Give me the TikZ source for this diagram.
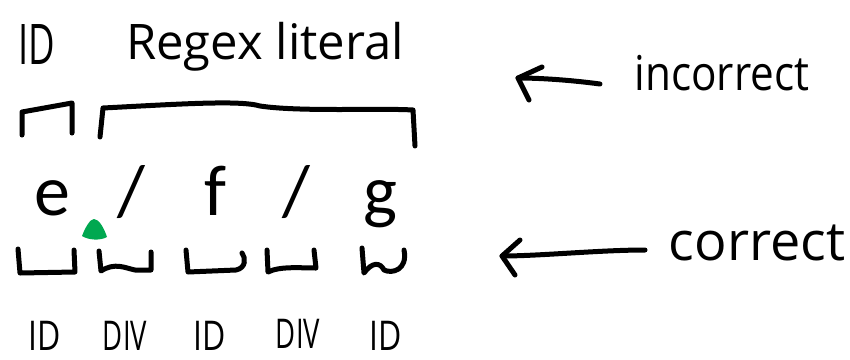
\documentclass[tikz,border=0pt]{standalone}
\usepackage{fontspec}
\newfontfamily\bigfont{Carlito}
\newfontfamily\handfont{Open Sans}
\definecolor{blobgreen}{RGB}{0,168,80}
\begin{document}
\begin{tikzpicture}[x=1pt,y=-1pt,
  ink/.style={line width=5pt,line cap=round,line join=round},
  bigchar/.style={font={\bigfont\fontsize{72}{72}\selectfont},inner sep=0pt,anchor=base},
  hand/.style={font={\handfont\fontsize{#1}{#1}\selectfont},inner sep=0pt},
  tok/.style={hand=41,anchor=base,text depth=0pt},
  blob/.style={fill=blobgreen,draw=none}]
\useasboundingbox (0,0) rectangle (850,359);
\fill[white] (0,0) rectangle (850,359);
% top labels
\node[hand=56,xscale=0.65] (tid) at (37,45) {ID};
\node[hand=49] (regex) at (265,47) {Regex literal};
% top brackets
\draw[ink] (22,135) -- (22,112) -- (72,103) -- (72,133);
\draw[ink] (100,137) -- (103,108) .. controls (180,104) and (240,100) .. (260,106) .. controls (300,112) and (380,108) .. (413,110) -- (415,146);
% characters
\node[bigchar] (ce) at (52,215) {e};
\node[bigchar] (cs1) at (131,215) {/};
\node[bigchar] (cf) at (215,215) {f};
\node[bigchar] (cs2) at (296,215) {/};
\node[bigchar] (cg) at (380,215) {g};
% green blob
\fill[blob] (82,236) .. controls (85,228) and (90,219) .. (94,219) .. controls (99,219) and (104,228) .. (107,237) .. controls (100,241) and (88,240) .. (82,236) -- cycle;
% bottom brackets
\draw[ink] (18,249) -- (20,273) -- (75,272) -- (74,250);
\draw[ink] (99,251) -- (101,271) .. controls (115,262) and (125,268) .. (135,270) -- (151,270) -- (151,252);
\draw[ink] (186,250) -- (188,272) -- (236,270) .. controls (246,268) and (246,258) .. (242,253);
\draw[ink] (267,250) -- (268,272) .. controls (280,266) and (300,268) .. (316,268) -- (314,250);
\draw[ink] (362,248) -- (364,273) .. controls (372,262) and (380,262) .. (384,270) .. controls (392,274) and (408,270) .. (404,250);
% bottom labels
\node[tok,xscale=0.78] (b1) at (45,350) {ID};
\node[tok,xscale=0.67] (b2) at (125,350) {DIV};
\node[tok,xscale=0.78] (b3) at (210,350) {ID};
\node[tok,xscale=0.67] (b4) at (298,348) {DIV};
\node[tok,xscale=0.78] (b5) at (386,350) {ID};
% right labels
\node[hand=48,xscale=0.88] (inc) at (722,73) {incorrect};
\node[hand=54] (cor) at (757,243) {correct};
% arrows
\coordinate (t1) at (518,78);
\coordinate (s1) at (600,84);
\coordinate (u1) at (542,67);
\coordinate (l1) at (529,100);
\draw[ink] (s1) .. controls (570,80) and (540,78) .. (t1);
\draw[ink] (u1) -- (t1) -- (l1);
\coordinate (t2) at (502,256);
\coordinate (s2) at (645,250);
\coordinate (u2) at (520,240);
\coordinate (l2) at (515,275);
\draw[ink] (s2) .. controls (600,250) and (540,256) .. (t2);
\draw[ink] (u2) -- (t2) -- (l2);
\end{tikzpicture}
\end{document}
